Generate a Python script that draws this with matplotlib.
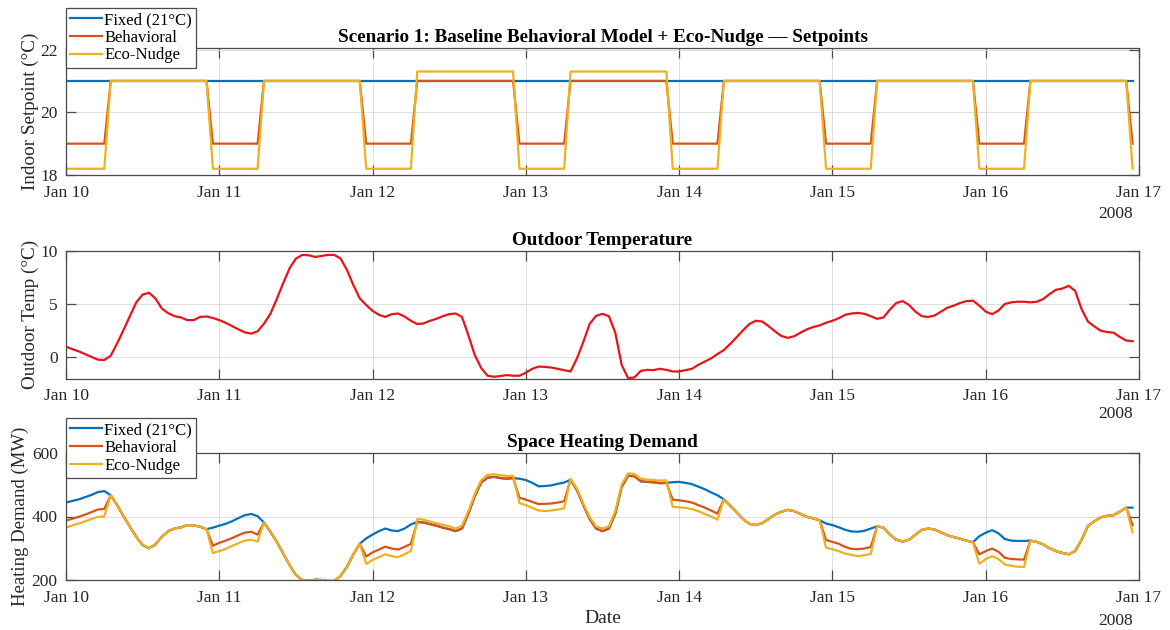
import matplotlib
matplotlib.use("Agg")
import matplotlib.pyplot as plt
import matplotlib.dates as mdates
import pandas as pd

plt.rcParams['font.family'] = ['Liberation Serif', 'DejaVu Serif']

# ---------------- data (hourly, Jan 10 00:00 .. Jan 16 23:00, 2008) ----------------
start = "2008-01-10 00:00"
n_hours = 168

sp_fixed = [21.0] * 168
sp_behavioral = ([19.0] * 7 + [21.0] * 16
                 + [19.0] * 8 + [21.0] * 16
                 + [19.0] * 8 + [21.0] * 16
                 + [19.0] * 8 + [21.0] * 16
                 + [19.0] * 8 + [21.0] * 16
                 + [19.0] * 8 + [21.0] * 16
                 + [19.0] * 8 + [21.0] * 16
                 + [19.0] * 1)
sp_nudge = ([18.2] * 7 + [21.0] * 16
            + [18.2] * 8 + [21.0] * 16
            + [18.2] * 8 + [21.3] * 16
            + [18.2] * 8 + [21.3] * 16
            + [18.2] * 8 + [21.0] * 16
            + [18.2] * 8 + [21.0] * 16
            + [18.2] * 8 + [21.0] * 16
            + [18.2] * 1)

t_out = [1.0, 0.77, 0.56, 0.3, 0.03, -0.22, -0.25, 0.15, 1.3, 2.57, 3.87, 5.17, 5.9, 6.07, 5.54, 4.6, 4.15, 3.87, 3.75, 3.5, 3.5, 3.8, 3.84, 3.7,
         3.5, 3.25, 2.94, 2.63, 2.35, 2.23, 2.45, 3.16, 4.09, 5.48, 6.97, 8.36, 9.29, 9.63, 9.6, 9.44, 9.54, 9.63, 9.63, 9.29, 8.2, 6.78, 5.54, 4.92,
         4.37, 4.0, 3.8, 4.06, 4.12, 3.84, 3.44, 3.13, 3.19, 3.44, 3.62, 3.87, 4.06, 4.12, 3.8, 2.07, 0.22, -1.0, -1.73, -1.83, -1.76, -1.67, -1.73, -1.73,
         -1.45, -1.08, -0.87, -0.9, -0.96, -1.08, -1.2, -1.33, -0.1, 1.45, 3.16, 3.9, 4.09, 3.87, 2.32, -0.71, -1.95, -1.89, -1.27, -1.18, -1.2, -1.08, -1.18, -1.33,
         -1.33, -1.2, -1.08, -0.71, -0.4, -0.1, 0.31, 0.68, 1.27, 1.89, 2.54, 3.13, 3.44, 3.37, 2.94, 2.45, 2.01, 1.83, 1.98, 2.32, 2.63, 2.85, 3.0, 3.25,
         3.44, 3.68, 4.0, 4.12, 4.18, 4.09, 3.87, 3.62, 3.75, 4.49, 5.11, 5.29, 4.92, 4.3, 3.87, 3.8, 3.93, 4.3, 4.67, 4.86, 5.11, 5.29, 5.33, 4.86,
         4.3, 4.06, 4.4, 5.02, 5.17, 5.23, 5.23, 5.17, 5.23, 5.48, 5.95, 6.35, 6.47, 6.72, 6.25, 4.55, 3.37, 2.91, 2.51, 2.38, 2.32, 1.92, 1.58, 1.52]

dem_fixed = [444, 449, 454, 461, 468, 477, 480, 467, 436, 401, 368, 336, 310, 300, 312, 336, 354, 362, 366, 373, 372, 368, 360, 365,
             371, 377, 385, 395, 404, 408, 401, 381, 352, 320, 284, 247, 216, 200, 197, 201, 200, 197, 197, 213, 242, 281, 314, 331,
             343, 354, 362, 356, 354, 362, 375, 383, 381, 376, 371, 365, 360, 354, 362, 409, 464, 507, 522, 525, 521, 519, 521, 519,
             515, 506, 495, 496, 498, 503, 507, 516, 483, 436, 392, 362, 354, 362, 409, 493, 528, 527, 511, 509, 508, 505, 506, 508,
             509, 506, 502, 494, 486, 476, 467, 454, 434, 413, 392, 377, 373, 379, 392, 406, 415, 421, 417, 408, 399, 394, 388, 378,
             373, 366, 358, 353, 352, 355, 362, 369, 365, 343, 327, 321, 327, 343, 358, 362, 359, 350, 341, 335, 330, 324, 319, 338,
             349, 357, 347, 329, 324, 323, 323, 324, 320, 312, 300, 291, 285, 281, 291, 326, 370, 385, 397, 402, 404, 415, 428, 428]

dem_behavioral = [387, 393, 399, 406, 414, 422, 424, 467, 436, 401, 368, 336, 310, 300, 312, 336, 354, 362, 366, 373, 372, 368, 360, 308,
                  317, 324, 332, 341, 349, 352, 343, 381, 352, 320, 284, 247, 216, 200, 197, 201, 200, 197, 197, 213, 242, 281, 314, 274,
                  287, 296, 305, 299, 296, 304, 314, 383, 381, 376, 371, 365, 360, 354, 362, 409, 464, 507, 522, 525, 521, 519, 521, 459,
                  453, 446, 439, 440, 441, 444, 448, 516, 483, 436, 392, 362, 354, 362, 409, 493, 528, 527, 511, 509, 508, 505, 506, 453,
                  451, 448, 444, 436, 428, 419, 409, 454, 434, 413, 392, 377, 373, 379, 392, 406, 415, 421, 417, 408, 399, 394, 388, 326,
                  320, 314, 304, 298, 297, 299, 304, 369, 365, 343, 327, 321, 327, 343, 358, 362, 359, 350, 341, 335, 330, 324, 319, 281,
                  291, 299, 289, 270, 266, 265, 264, 324, 320, 312, 300, 291, 285, 281, 291, 326, 370, 385, 397, 402, 404, 415, 428, 373]

dem_nudge = [365, 372, 378, 385, 392, 399, 400, 467, 436, 401, 368, 336, 310, 300, 312, 336, 354, 362, 366, 373, 372, 368, 360, 285,
             291, 298, 307, 316, 324, 327, 321, 381, 352, 320, 284, 247, 216, 200, 197, 201, 200, 197, 197, 213, 242, 281, 314, 251,
             263, 272, 281, 275, 272, 281, 291, 392, 390, 384, 379, 374, 369, 362, 371, 417, 471, 514, 531, 533, 530, 528, 528, 442,
             436, 427, 419, 417, 419, 422, 426, 519, 488, 441, 398, 369, 362, 369, 417, 500, 536, 534, 519, 516, 515, 513, 514, 430,
             429, 427, 423, 417, 408, 400, 390, 454, 434, 413, 392, 377, 373, 379, 392, 406, 415, 421, 417, 408, 399, 394, 388, 302,
             297, 291, 283, 279, 275, 278, 282, 369, 365, 343, 327, 321, 327, 343, 358, 362, 359, 350, 341, 335, 330, 324, 319, 251,
             266, 275, 266, 249, 245, 242, 241, 324, 320, 312, 300, 291, 285, 281, 291, 326, 370, 385, 397, 402, 404, 415, 428, 350]

series_labels = ["Fixed (21°C)", "Behavioral", "Eco-Nudge"]
times = pd.date_range(start, periods=n_hours, freq="h")

# ---------------- style ----------------
C_FIX = "#0072BD"
C_BEH = "#D95319"
C_NUD = "#EDB120"
C_OUT = "#E8141A"
LW = 1.6
AX_COL = "#4a4a4a"
TXT_COL = "#262626"

fig = plt.figure(figsize=(11.7, 6.3), dpi=100)
W, H = 1170.0, 630.0
left_px, right_px = 66, 1139


def make_ax(top_px, bot_px):
    return fig.add_axes([left_px / W, 1 - bot_px / H, (right_px - left_px) / W, (bot_px - top_px) / H])


ax1 = make_ax(48, 175)
ax2 = make_ax(251, 378.6)
ax3 = make_ax(453, 580)

x0 = pd.Timestamp("2008-01-10")
x1 = pd.Timestamp("2008-01-17")


def style(ax):
    ax.set_xlim(x0, x1)
    ax.xaxis.set_major_locator(mdates.DayLocator())
    ax.xaxis.set_major_formatter(mdates.DateFormatter("%b %d"))
    ax.grid(True, color="#dedede", linewidth=0.7)
    ax.set_axisbelow(True)
    for s in ax.spines.values():
        s.set_color(AX_COL)
        s.set_linewidth(0.9)
    ax.tick_params(direction="in", length=7, width=0.9, color=AX_COL,
                   top=True, right=True, labelsize=12.5, labelcolor=TXT_COL)
    ax.tick_params(axis="x", pad=7)
    ax.tick_params(axis="y", pad=6)


# ---- panel 1: setpoints
ax1.plot(times, sp_fixed, color=C_FIX, lw=LW, label=series_labels[0])
ax1.plot(times, sp_behavioral, color=C_BEH, lw=LW, label=series_labels[1])
ax1.plot(times, sp_nudge, color=C_NUD, lw=LW, label=series_labels[2])
ax1.set_ylim(18, 22.05)
ax1.set_yticks([18, 20, 22])
style(ax1)
ax1.set_ylabel("Indoor Setpoint (°C)", fontsize=13.8, color=TXT_COL, labelpad=1)
ax1.set_title("Scenario 1: Baseline Behavioral Model + Eco-Nudge — Setpoints",
              fontsize=13.8, fontweight="bold", pad=4)
leg1 = ax1.legend(loc="upper left", bbox_to_anchor=(0.0, 1.315), borderaxespad=0,
                  fontsize=12, handlelength=1.9, handletextpad=0.15, labelspacing=0.1,
                  borderpad=0.25, fancybox=False, framealpha=1, edgecolor=AX_COL)
leg1.get_frame().set_linewidth(0.9)

# ---- panel 2: outdoor temperature
ax2.plot(times, t_out, color=C_OUT, lw=LW)
ax2.set_ylim(-2, 10)
ax2.set_yticks([0, 5, 10])
style(ax2)
ax2.set_ylabel("Outdoor Temp (°C)", fontsize=13.8, color=TXT_COL, labelpad=1)
ax2.set_title("Outdoor Temperature", fontsize=13.8, fontweight="bold", pad=4)

# ---- panel 3: heating demand
ax3.plot(times, dem_fixed, color=C_FIX, lw=LW, label=series_labels[0])
ax3.plot(times, dem_behavioral, color=C_BEH, lw=LW, label=series_labels[1])
ax3.plot(times, dem_nudge, color=C_NUD, lw=LW, label=series_labels[2])
ax3.set_ylim(200, 600)
ax3.set_yticks([200, 400, 600])
style(ax3)
ax3.set_ylabel("Heating Demand (MW)", fontsize=13.5, color=TXT_COL, labelpad=2)
ax3.set_title("Space Heating Demand", fontsize=13.8, fontweight="bold", pad=4)
ax3.set_xlabel("Date", fontsize=14, color=TXT_COL, labelpad=3)
leg3 = ax3.legend(loc="upper left", bbox_to_anchor=(0.0, 1.275), borderaxespad=0,
                  fontsize=12, handlelength=1.9, handletextpad=0.15, labelspacing=0.1,
                  borderpad=0.25, fancybox=False, framealpha=1, edgecolor=AX_COL)
leg3.get_frame().set_linewidth(0.9)

# year secondary labels
for ypx in (214, 414, 621):
    fig.text(1133 / W, 1 - ypx / H, "2008", ha="right", va="center",
             fontsize=12.5, color=TXT_COL)

fig.savefig("out.png", dpi=100, facecolor="white")
